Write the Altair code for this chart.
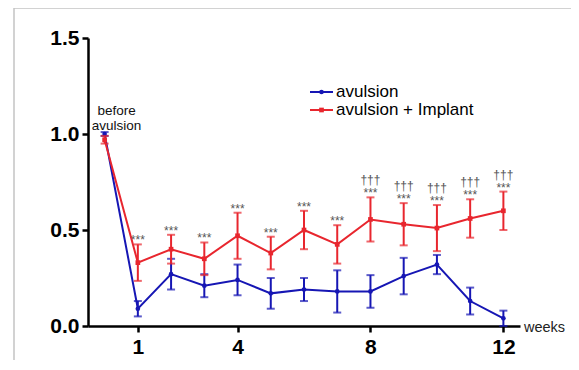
import altair as alt
import pandas as pd

weeks = [0, 1, 2, 3, 4, 5, 6, 7, 8, 9, 10, 11, 12]
blue_mean = [1.00, 0.09, 0.27, 0.21, 0.24, 0.17, 0.19, 0.18, 0.18, 0.26, 0.32, 0.13, 0.04]
blue_err = [0.01, 0.04, 0.08, 0.06, 0.08, 0.08, 0.06, 0.11, 0.085, 0.095, 0.05, 0.07, 0.04]
red_mean = [0.97, 0.33, 0.40, 0.35, 0.47, 0.38, 0.50, 0.425, 0.555, 0.53, 0.51, 0.56, 0.60]
red_err = [0.02, 0.095, 0.075, 0.085, 0.12, 0.085, 0.10, 0.10, 0.115, 0.11, 0.12, 0.10, 0.10]
star_weeks = [1, 2, 3, 4, 5, 6, 7, 8, 9, 10, 11, 12]
dagger_weeks = [8, 9, 10, 11, 12]
x_ticks = [1, 4, 8, 12]
y_ticks = [0, 0.5, 1.0, 1.5]
series_names = ["avulsion", "avulsion + Implant"]
BLUE = "#1616b4"
RED = "#e8262e"

blue = pd.DataFrame({"week": weeks, "mean": blue_mean,
                     "lo": [m - e for m, e in zip(blue_mean, blue_err)],
                     "hi": [m + e for m, e in zip(blue_mean, blue_err)]})
red = pd.DataFrame({"week": weeks, "mean": red_mean,
                    "lo": [m - e for m, e in zip(red_mean, red_err)],
                    "hi": [m + e for m, e in zip(red_mean, red_err)]})
stars = red[red["week"].isin(star_weeks)].assign(label="***")
daggers = red[red["week"].isin(dagger_weeks)].assign(label="†††")

xs = alt.Scale(domain=[-0.5, 12.5], nice=False, zero=False)
ys = alt.Scale(domain=[0, 1.5], nice=False)
X = alt.X("week:Q", scale=xs,
          axis=alt.Axis(values=x_ticks, title=None, grid=False, labelPadding=4))
Y = alt.Y("mean:Q", scale=ys,
          axis=alt.Axis(values=y_ticks, format=".1f", title=None, grid=False, labelPadding=3))


def series(df, color, shape):
    base = alt.Chart(df)
    line = base.mark_line(color=color, strokeWidth=2).encode(x=X, y=Y)
    rule = base.mark_rule(color=color, strokeWidth=2).encode(
        x="week:Q", y="lo:Q", y2="hi:Q")
    cap_lo = base.mark_tick(color=color, orient="horizontal", size=8, thickness=2).encode(
        x="week:Q", y="lo:Q")
    cap_hi = base.mark_tick(color=color, orient="horizontal", size=8, thickness=2).encode(
        x="week:Q", y="hi:Q")
    pts = base.mark_point(color=color, filled=True, opacity=1, shape=shape, size=22).encode(
        x="week:Q", y="mean:Q")
    return [line, rule, cap_lo, cap_hi, pts]


star_text = alt.Chart(stars).mark_text(fontSize=12, color="#555555", baseline="middle",
                                       font="Liberation Sans", dy=-4).encode(
    x="week:Q", y="hi:Q", text="label:N")
dagger_text = alt.Chart(daggers).mark_text(fontSize=12, color="#555555", baseline="middle",
                                           font="Liberation Sans", dy=-17).encode(
    x="week:Q", y="hi:Q", text="label:N")

before = alt.Chart(pd.DataFrame({"week": [0], "v": [1.0],
                                 "t": [["before", "avulsion"]]})).mark_text(
    fontSize=13.5, font="Liberation Sans", color="#111", baseline="bottom",
    dx=12, dy=-16, lineHeight=15).encode(x="week:Q", y="v:Q", text="t")

weeks_lbl = alt.Chart(pd.DataFrame({"week": [12.5], "v": [0.0], "t": ["weeks"]})).mark_text(
    fontSize=14.5, font="Liberation Sans", color="#222", align="left", baseline="middle",
    dx=4, dy=2).encode(x="week:Q", y="v:Q", text="t:N")

leg = pd.DataFrame({"name": series_names})
legend_layers = []
for i, (nm, col, shp) in enumerate(zip(series_names, [BLUE, RED], ["circle", "square"])):
    d = alt.Chart(leg[leg["name"] == nm])
    yv = 54 + 18 * i
    legend_layers.append(d.mark_rule(color=col, strokeWidth=2).encode(
        x=alt.value(222), x2=alt.value(245), y=alt.value(yv)))
    legend_layers.append(d.mark_point(color=col, filled=True, opacity=1, shape=shp, size=22).encode(
        x=alt.value(233.5), y=alt.value(yv)))
    legend_layers.append(d.mark_text(fontSize=17, font="Liberation Sans", color="black",
                                     align="left", baseline="middle").encode(
        x=alt.value(248), y=alt.value(yv), text="name:N"))

frame = alt.Chart(pd.DataFrame({"a": [0]})).mark_rect(
    filled=False, stroke="#c4c4c4", strokeWidth=1.5).encode(
    x=alt.value(-74), x2=alt.value(600), y=alt.value(-30), y2=alt.value(400))

chart = alt.layer(
    frame,
    *series(blue, BLUE, "circle"),
    *series(red, RED, "square"),
    star_text, dagger_text, before, weeks_lbl,
    *legend_layers,
).properties(
    width=432, height=288,
    autosize=alt.AutoSizeParams(type="none"),
    padding={"left": 80, "top": 30, "right": 51, "bottom": 34},
).configure_view(strokeWidth=0).configure_axis(
    domainColor="black", domainWidth=2.5, tickColor="black", tickWidth=2.5, tickSize=6,
    labelFont="Liberation Sans", labelFontWeight="bold", labelFontSize=21, labelColor="black",
)

chart.save("out.html", embed_options={"renderer": "svg", "actions": False})
